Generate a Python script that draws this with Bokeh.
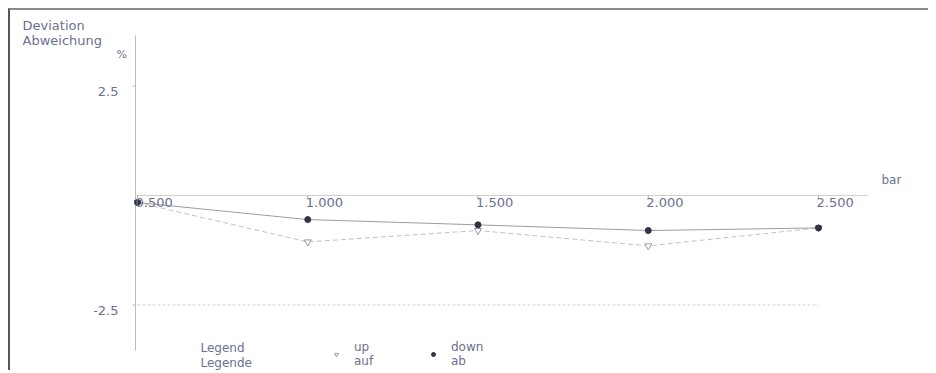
from bokeh.plotting import figure
from bokeh.models import Range1d, Label, LabelSet, Legend, LegendItem, ColumnDataSource
from bokeh.core.properties import value
from bokeh.embed import file_html
from bokeh.resources import INLINE

# ---- data ----
pressure_bar = [0.5, 1.0, 1.5, 2.0, 2.5]
dev_up = [-0.16, -1.06, -0.80, -1.15, -0.74]
dev_down = [-0.16, -0.55, -0.67, -0.80, -0.74]
x_ticks = [0.5, 1.0, 1.5, 2.0, 2.5]
x_tick_labels = ["0.500", "1.000", "1.500", "2.000", "2.500"]
y_ticks = [-2.5, 2.5]
y_tick_labels = ["-2.5", "2.5"]

# ---- geometry (page pixels) ----
W, H = 920, 362          # canvas size
OX, OY = 10, 10          # canvas origin on the page (margin + border)
PX_X = 340.5             # px per bar
PX_Y = 43.8              # px per %
SX_FIRST = 137           # page x of first x tick
SY_ZERO = 195            # page y of zero line
X0 = x_ticks[0] + (OX - SX_FIRST) / PX_X
X1 = X0 + W / PX_X
Y1 = (SY_ZERO - OY) / PX_Y
Y0 = Y1 - H / PX_Y

def dx(sx):
    return X0 + (sx - OX) / PX_X

def dy(sy):
    return Y1 - (sy - OY) / PX_Y

FONT = "DejaVu Sans"
TXT = "#6a7190"

p = figure(width=W, height=H, min_border=0,
           x_range=Range1d(X0, X1), y_range=Range1d(Y0, Y1),
           x_axis_location=None, y_axis_location=None,
           output_backend="svg", toolbar_location=None,
           background_fill_color="white", border_fill_color="white",
           styles={"margin-left": "8px", "margin-top": "8px",
                   "border-top": "2px solid #8a8a8a", "border-left": "2px solid #555555"})
p.outline_line_color = None
p.grid.visible = False

# axes
AX = dx(135)
p.segment(x0=[AX], x1=[AX], y0=[dy(35)], y1=[dy(350)], line_color="#bdbdbd", line_width=1)
p.segment(x0=[AX], x1=[dx(867)], y0=[0], y1=[0], line_color="#cfcfcf", line_width=1)
p.segment(x0=x_ticks, x1=x_ticks, y0=[0] * len(x_ticks), y1=[-3 / PX_Y] * len(x_ticks),
          line_color="#a8a8a8", line_width=1)
p.segment(x0=[AX] * len(y_ticks), x1=[AX - 3 / PX_X] * len(y_ticks), y0=y_ticks, y1=y_ticks,
          line_color="#bdbdbd", line_width=1)

xsrc = ColumnDataSource(dict(x=x_ticks, y=[-2 / PX_Y] * len(x_ticks), t=x_tick_labels))
p.add_layout(LabelSet(x="x", y="y", text="t", source=xsrc, x_offset=-2,
                      text_font=value(FONT), text_font_size=value("13px"), text_color=TXT,
                      text_align="left", text_baseline="top"))
ysrc = ColumnDataSource(dict(x=[AX] * len(y_ticks), y=y_ticks, t=y_tick_labels))
p.add_layout(LabelSet(x="x", y="y", text="t", source=ysrc, x_offset=-17, y_offset=-1,
                      text_font=value(FONT), text_font_size=value("13px"), text_color=TXT,
                      text_align="right", text_baseline="top"))

# tolerance line at lower tick
p.segment(x0=[x_ticks[0]], x1=[x_ticks[-1]], y0=[y_ticks[0]], y1=[y_ticks[0]],
          line_color="#d2d2d2", line_width=1, line_dash="3 2")

# series
p.line(pressure_bar, dev_up, line_color="#c2c2c2", line_width=1, line_dash="5 3")
p.line(pressure_bar, dev_down, line_color="#9c9c9c", line_width=1)
r_up = p.scatter(pressure_bar, dev_up, marker="inverted_triangle", size=7,
                 fill_color="white", line_color="#9a9a9a", line_width=1)
r_down = p.scatter(pressure_bar, dev_down, marker="circle", size=6,
                   fill_color="#2f3445", line_color="#2f3445")

# texts
p.add_layout(Label(x=dx(22), y=dy(17), text="Deviation\nAbweichung", text_font=FONT,
                   text_font_size="13px", text_color=TXT, text_align="left",
                   text_baseline="top", text_line_height=1.0))
p.add_layout(Label(x=dx(116), y=dy(47), text="%", text_font=FONT,
                   text_font_size="11px", text_color=TXT, text_align="left", text_baseline="top"))
p.add_layout(Label(x=dx(881), y=dy(172), text="bar", text_font=FONT,
                   text_font_size="12px", text_color=TXT, text_align="left", text_baseline="top"))
p.add_layout(Label(x=dx(200), y=dy(340), text="Legend\nLegende", text_font=FONT,
                   text_font_size="12px", text_color=TXT, text_align="left",
                   text_baseline="top", text_line_height=1.1))

legend = Legend(items=[LegendItem(label="up\nauf", renderers=[r_up]),
                       LegendItem(label="down\nab", renderers=[r_down])],
                orientation="horizontal", location=(321, 4),
                label_text_font=FONT, label_text_font_size="12px", label_text_color=TXT,
                label_text_line_height=1.1,
                glyph_width=10, glyph_height=10, label_standoff=13, spacing=54,
                padding=0, margin=0, border_line_alpha=0, background_fill_alpha=0)
p.add_layout(legend)

open("out.html", "w").write(file_html(p, INLINE))
